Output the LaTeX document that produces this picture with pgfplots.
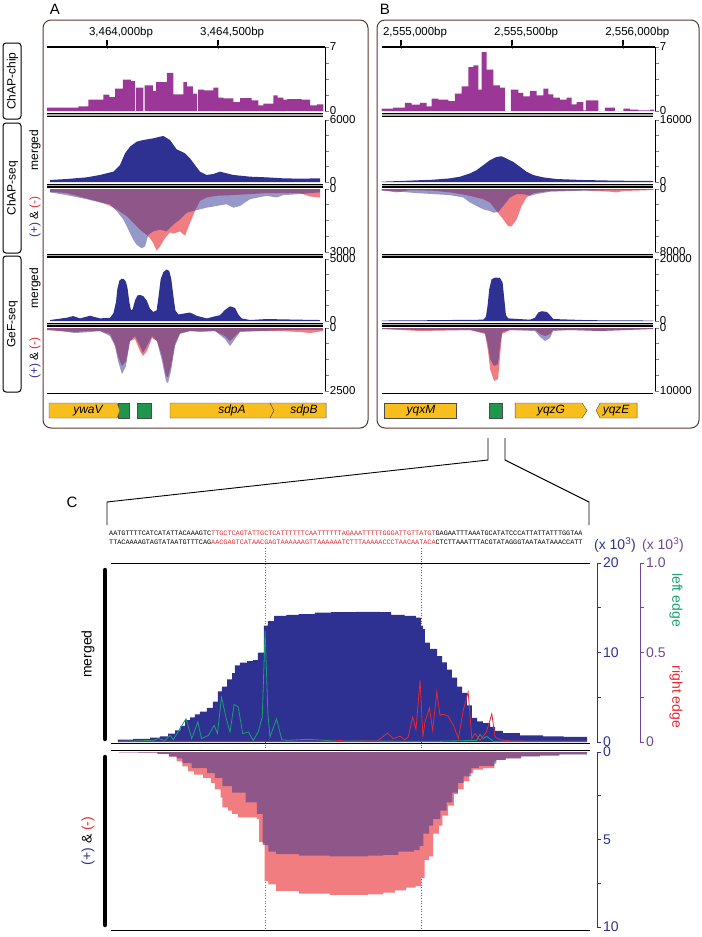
\documentclass[border=0pt]{standalone}
\usepackage{fontspec}
\setmainfont{Liberation Sans}
\newfontfamily\seqfont{Liberation Mono}
\usepackage{pgfplots}
\pgfplotsset{compat=1.18}
\definecolor{navy}{RGB}{46,49,146}
\definecolor{mag}{RGB}{155,55,150}
\definecolor{pinkc}{RGB}{242,125,128}
\definecolor{framec}{RGB}{90,55,45}
\definecolor{gyellow}{RGB}{247,190,30}
\definecolor{ggreen}{RGB}{30,150,75}
\definecolor{egreen}{RGB}{25,160,110}
\definecolor{ered}{RGB}{230,40,50}
\definecolor{purp}{RGB}{110,70,150}
\definecolor{sepgray}{RGB}{175,175,175}
\newcommand\fntA{\fontsize{11.5bp}{12bp}\selectfont}
\newcommand\fntC{\fontsize{14bp}{15bp}\selectfont}
\newcommand\fntS{\fontsize{12bp}{13bp}\selectfont}
\pgfplotsset{
 trkbase/.style={scale only axis, anchor=south west, axis y line=right,
   axis line style={-, line width=0.7bp}, tick align=outside, major tick length=3.5bp,
   ytick style={line width=0.7bp}, yticklabel style={font=\fntA, inner sep=1.2bp},
   scaled y ticks=false, ymin=0, clip=false},
 trk/.style={trkbase, axis x line=none},
 trkA/.style={width=278bp, xmin=730, xmax=1981},
 trkB/.style={width=273bp, xmin=914.5, xmax=2142.5},
 chip/.style={trkbase, axis x line=top, height=64bp, ymax=7,
   x axis line style={-, line width=1.1bp}, 
   ytick={0,1.75,3.5,5.25,7}, yticklabels={0,,,,7},
   xticklabel style={font=\fntA, inner sep=1.5bp, yshift=6bp, xshift=14bp}, scaled x ticks=false},
 gene/.style={scale only axis, anchor=south west, height=15bp, ymin=0, ymax=1, hide axis, clip=false},
 trkC/.style={scale only axis, anchor=south west, axis x line=none, axis y line=right,
   axis line style={-, line width=1bp, navy}, tick align=outside, major tick length=4bp,
   ytick style={line width=1bp, navy}, yticklabel style={font=\fntC, text=navy, inner sep=2bp},
   scaled y ticks=false, ymin=0, clip=false},
}
\begin{document}
\begin{tikzpicture}
\useasboundingbox (0bp,0bp) rectangle (702bp,-937bp);
\begin{scope}[x=1bp,y=-1bp]
% dotted guide lines in C
\draw[egreen, dotted, line width=0.7bp] (265,548) -- (265,930);
\draw[ered, dotted, line width=0.7bp] (421,548) -- (421,930);
% panel letters
\node[font=\fontsize{15bp}{15bp}\selectfont] at (55,9) {A};
\node[font=\fontsize{15bp}{15bp}\selectfont] at (385,9) {B};
\node[font=\fontsize{15bp}{15bp}\selectfont] at (72,502) {C};
% frames
\draw[framec, line width=1bp, rounded corners=8bp] (43,20) rectangle (368,428);
\draw[framec, line width=1bp, rounded corners=8bp] (377,20) rectangle (699,428);
% top axis lines and tick marks
\draw[line width=1.2bp] (47,47) -- (323,47);
\draw[line width=1.2bp] (382,47) -- (653,47);
\foreach \xx in {107,218,401,512,623}{\draw[line width=1.1bp] (\xx,39.5) -- (\xx,47);}
% side boxes
\draw[line width=1bp, rounded corners=3bp] (3,43) rectangle (21,119);
\draw[line width=1bp, rounded corners=3bp] (3,123) rectangle (21,253);
\draw[line width=1bp, rounded corners=3bp] (3,256) rectangle (21,392);
\node[rotate=90, font=\fntS] at (12.5,81) {ChAP-chip};
\node[rotate=90, font=\fntS] at (12.5,188) {ChAP-seq};
\node[rotate=90, font=\fntS] at (12.5,324) {GeF-seq};
\node[rotate=90, font=\fntS] at (35,150) {merged};
\node[rotate=90, font=\fntS] at (35,217) {\textcolor{navy}{(+)} \& \textcolor{ered}{(-)}};
\node[rotate=90, font=\fntS] at (35,288) {merged};
\node[rotate=90, font=\fntS] at (35,358) {\textcolor{navy}{(+)} \& \textcolor{ered}{(-)}};
% separators
\foreach \yy in {115,185.5,255.5,324.5}{
  \draw[line width=4bp] (47,\yy) -- (323,\yy);
  \draw[sepgray, line width=1.6bp] (47,\yy) -- (323,\yy);
  \draw[line width=4bp] (382,\yy) -- (653,\yy);
  \draw[sepgray, line width=1.6bp] (382,\yy) -- (653,\yy);
}
\draw[line width=0.8bp] (47,393.5) -- (323,393.5);
\draw[line width=0.8bp] (382,393.5) -- (653,393.5);
% zoom lines
\draw[line width=0.9bp] (488,438) -- (488,460) -- (107,502) -- (107,525);
\draw[line width=0.9bp] (505,438) -- (505,460) -- (589,502) -- (589,525);
% sequence
\node[anchor=west, inner sep=0pt] at (109,533) {\seqfont\fontsize{6.8bp}{7bp}\selectfont AATGTTTTCATCATATTACAAAGTC\textcolor{ered}{TTGCTCAGTATTGCTCATTTTTTCAATTTTTTAGAAATTTTTGGGATTGTTATGT}GAGAATTTAAATGCATATCCCATTATTATTTGGTAA};
\node[anchor=west, inner sep=0pt] at (109,542) {\seqfont\fontsize{6.8bp}{7bp}\selectfont TTACAAAAGTAGTATAATGTTTCAG\textcolor{ered}{AACGAGTCATAACGAGTAAAAAAGTTAAAAAATCTTTAAAAACCCTAACAATACA}CTCTTAAATTTACGTATAGGGTAATAATAAACCATT};
% panel C decorations
\draw[line width=1bp] (111,563) -- (590,563);
\draw[line width=1bp] (111,743) -- (590,743);
\draw[line width=1bp] (111,750) -- (590,750);
\draw[line width=1bp] (111,930) -- (590,930);
\draw[line width=4.5bp, line cap=round] (105,570) -- (105,739);
\draw[line width=4.5bp, line cap=round] (105,757) -- (105,925);
\node[rotate=90, font=\fntC] at (88,654) {merged};
\node[rotate=90, font=\fntC] at (88,841) {\textcolor{navy}{(+)} \& \textcolor{ered}{(-)}};
\node[font=\fntC, text=navy] at (615,545) {(x 10\textsuperscript{3})};
\node[font=\fntC, text=purp] at (663,545) {(x 10\textsuperscript{3})};
\node[rotate=-90, font=\fntC, text=egreen] at (676,600) {left edge};
\node[rotate=-90, font=\fntC, text=ered] at (676,697) {right edge};
\end{scope}

%================ PANEL A ================
\begin{axis}[chip, trkA, at={(47bp,-111bp)},
  xtick={1000,1500}, xticklabels={{3,464,000bp},{3,464,500bp}}]
\addplot[const plot, fill=mag, draw=none] coordinates {(729,0.36) (871,0.51) (916,1.24) (984,1.79) (1011,1.53) (1036,2.44) (1071,3.43) (1107,3.28) (1126,0) (1131,2.55) (1164,0) (1169,2.81) (1206,2.19) (1221,3.17) (1269,4.16) (1299,1.82) (1344,3.17) (1359,2.70) (1386,1.90) (1404,0) (1410,2.33) (1437,2.26) (1479,2.55) (1501,1.46) (1524,1.39) (1569,0.98) (1599,1.42) (1651,1.17) (1681,0.62) (1704,0.80) (1749,1.71) (1768,1.46) (1794,1.24) (1812,1.31) (1876,1.24) (1914,0.62) (1944,0.73) (1974,0.73)} \closedcycle;
\end{axis}
\begin{axis}[trk, trkA, at={(47bp,-182bp)}, height=62bp, ymax=6000,
  ytick={0,1500,3000,4500,6000}, yticklabels={0,,,,6000}]
\addplot[fill=navy, draw=none] coordinates {(743.5,194) (818.5,290) (908.5,450) (968.5,680) (1028.5,1000) (1058.5,1645) (1081,2774) (1103.5,3420) (1133.5,3900) (1163.5,4065) (1208.5,4226) (1238.5,4387) (1253.5,4450) (1283.5,4065) (1313.5,3160) (1336,2935) (1351,2774) (1373.5,2290) (1396,1645) (1418.5,1000) (1448.5,680) (1478.5,774) (1508.5,1000) (1538.5,840) (1568.5,680) (1643.5,516) (1718.5,450) (1793.5,355) (1868.5,323) (1958.5,355)} \closedcycle;
\end{axis}
\begin{axis}[trk, trkA, at={(47bp,-252bp)}, height=63bp, ymax=3000, y dir=reverse,
  ytick={0,750,1500,2250,3000}, yticklabels={0,,,,3000}]
\addplot[fill=pinkc, draw=none] coordinates {(743.5,129) (818.5,194) (908.5,452) (968.5,613) (1013.5,807) (1043.5,968) (1088.5,1290) (1118.5,1613) (1148.5,1936) (1178.5,2178) (1193.5,2339) (1208.5,2581) (1223.5,2936) (1238.5,2742) (1261,2339) (1283.5,2065) (1298.5,2129) (1328.5,2016) (1351,2226) (1373.5,1613) (1396,1048) (1418.5,565) (1448.5,403) (1493.5,323) (1568.5,290) (1718.5,194) (1868.5,194) (1913.5,355) (1958.5,403)} \closedcycle;
\addplot[fill=navy, fill opacity=0.5, draw=none] coordinates {(743.5,161) (818.5,290) (908.5,484) (968.5,645) (1013.5,726) (1043.5,1048) (1073.5,1452) (1096,1936) (1118.5,2420) (1133.5,2661) (1156,2823) (1171,2742) (1186,2178) (1208.5,2016) (1238.5,1936) (1268.5,2016) (1298.5,1694) (1328.5,1452) (1358.5,1129) (1388.5,1048) (1418.5,968) (1448.5,887) (1493.5,807) (1538.5,726) (1568.5,887) (1598.5,807) (1643.5,484) (1718.5,323) (1763.5,403) (1793.5,290) (1868.5,242) (1913.5,194) (1958.5,161)} \closedcycle;
\end{axis}
\begin{axis}[trk, trkA, at={(47bp,-321bp)}, height=62bp, ymax=5000,
  ytick={0,1250,2500,3750,5000}, yticklabels={0,,,,5000}]
\addplot[fill=navy, draw=none] coordinates {(743.5,79) (818.5,263) (848.5,395) (878.5,210) (923.5,421) (968.5,210) (1013.5,263) (1028.5,605) (1040.5,1526) (1046.5,2578) (1055.5,3235) (1066,3419) (1076.5,3367) (1085.5,3156) (1093,2578) (1100.5,1526) (1108,868) (1115.5,947) (1126,1657) (1136.5,2051) (1148.5,2104) (1163.5,1999) (1178.5,1657) (1193.5,999) (1208.5,736) (1223.5,868) (1232.5,2051) (1241.5,3367) (1253.5,3945) (1268.5,4156) (1280.5,4024) (1289.5,3367) (1298.5,2051) (1307.5,868) (1321,526) (1373.5,684) (1403.5,421) (1448.5,210) (1508.5,473) (1531,894) (1553.5,1184) (1576,1052) (1591,526) (1606,210) (1643.5,79) (1718.5,158) (1793.5,131) (1868.5,105) (1958.5,79)} \closedcycle;
\end{axis}
\begin{axis}[trk, trkA, at={(47bp,-391bp)}, height=63bp, ymax=2500, y dir=reverse,
  ytick={0,625,1250,1875,2500}, yticklabels={0,,,,2500}]
\addplot[fill=pinkc, draw=none] coordinates {(730,79) (788.5,119) (856,159) (923.5,119) (968.5,119) (1013.5,238) (1036,635) (1049.5,1112) (1067.5,1509) (1085.5,1310) (1103.5,516) (1126,437) (1148.5,913) (1162,1112) (1180,913) (1202.5,397) (1225,516) (1247.5,1112) (1265.5,1905) (1274.5,1945) (1288,1509) (1306,635) (1328.5,199) (1373.5,119) (1418.5,119) (1486,119) (1531,318) (1553.5,516) (1576,318) (1598.5,119) (1688.5,119) (1778.5,119) (1868.5,159) (1913.5,199) (1972,119)} \closedcycle;
\addplot[fill=navy, fill opacity=0.5, draw=none] coordinates {(730,79) (788.5,119) (856,199) (923.5,159) (968.5,119) (1013.5,318) (1036,715) (1049.5,1310) (1067.5,1826) (1085.5,1509) (1103.5,516) (1126,318) (1148.5,715) (1162,993) (1180,715) (1202.5,318) (1225,516) (1247.5,1310) (1265.5,2104) (1274.5,2184) (1288,1707) (1306,715) (1328.5,238) (1373.5,119) (1418.5,159) (1486,119) (1531,437) (1553.5,715) (1576,437) (1598.5,159) (1688.5,119) (1823.5,79) (1972,79)} \closedcycle;
\end{axis}
\begin{axis}[gene, at={(47bp,-418bp)}, width=278bp, xmin=730, xmax=1981]
\filldraw[fill=ggreen, draw=black!70, line width=0.4bp] (1050,0) rectangle (1099,1);
\filldraw[fill=ggreen, draw=black!70, line width=0.4bp] (1135,0) rectangle (1198,1);
\filldraw[fill=gyellow, draw=black!70, line width=0.4bp] (739,0) -- (1045,0) -- (1058.5,0.5) -- (1045,1) -- (739,1) -- cycle;
\filldraw[fill=gyellow, draw=black!70, line width=0.4bp] (1283.5,0) -- (1733.5,0) -- (1751.5,0.5) -- (1733.5,1) -- (1283.5,1) -- cycle;
\filldraw[fill=gyellow, draw=black!70, line width=0.4bp] (1733.5,0) -- (1986,0) -- (1986,1) -- (1733.5,1) -- (1751.5,0.5) -- cycle;
\node[font=\fntS\itshape] at (914.5,0.5) {ywaV};
\node[font=\fntS\itshape] at (1562.5,0.5) {sdpA};
\node[font=\fntS\itshape] at (1886.5,0.5) {sdpB};
\end{axis}

%================ PANEL B ================
\begin{axis}[chip, trkB, at={(382bp,-111bp)},
  xtick={1000,1500,2000}, xticklabels={{2,555,000bp},{2,555,500bp},{2,556,000bp}}]
\addplot[const plot, fill=mag, draw=none] coordinates {(912.5,0.26) (965,0.36) (1017.5,0.88) (1047.5,0.69) (1085,0.88) (1115,0.51) (1137.5,1.35) (1167.5,1.24) (1212.5,1.09) (1242.5,1.90) (1272.5,2.70) (1302.5,4.81) (1325,5.00) (1347.5,2.33) (1362.5,6.45) (1385,4.52) (1415,2.81) (1445,2.55) (1467.5,0) (1494.5,2.33) (1527.5,1.97) (1550,1.60) (1580,2.19) (1610,1.71) (1640,2.44) (1662.5,1.82) (1685,1.46) (1715,1.24) (1745,1.46) (1767.5,0.73) (1790,0.98) (1820,0.07) (1832,1.17) (1887.5,0) (1917.5,0.36) (1962.5,0) (2000,0.26) (2030,0.15) (2067.5,0.07) (2120,0.15) (2138,0.15)} \closedcycle;
\end{axis}
\begin{axis}[trk, trkB, at={(382bp,-182bp)}, height=62bp, ymax=16000,
  ytick={0,4000,8000,12000,16000}, yticklabels={0,,,,16000}]
\addplot[fill=navy, draw=none] coordinates {(912.5,85) (995,255) (1070,425) (1145,596) (1220,936) (1265,1362) (1310,2213) (1340,3064) (1370,4340) (1400,5617) (1430,6468) (1452.5,6638) (1475,6043) (1505,5192) (1535,3915) (1565,2638) (1595,1787) (1640,1191) (1700,766) (1820,511) (1970,340) (2135,255)} \closedcycle;
\end{axis}
\begin{axis}[trk, trkB, at={(382bp,-252bp)}, height=63bp, ymax=8000, y dir=reverse,
  ytick={0,2000,4000,6000,8000}, yticklabels={0,,,,8000}]
\addplot[fill=pinkc, draw=none] coordinates {(912.5,129) (980,430) (1040,129) (1145,215) (1220,430) (1295,774) (1370,1290) (1400,1720) (1430,2795) (1460,3870) (1482.5,4730) (1497.5,4730) (1520,3870) (1542.5,2150) (1565,1075) (1595,516) (1670,258) (1820,172) (1940,344) (1970,430) (2000,258) (2135,129)} \closedcycle;
\addplot[fill=navy, fill opacity=0.5, draw=none] coordinates {(912.5,215) (995,344) (1070,516) (1145,645) (1220,774) (1280,1075) (1310,1720) (1340,2150) (1370,2580) (1400,2795) (1415,3010) (1437.5,2924) (1460,2150) (1490,1075) (1520,645) (1550,645) (1580,860) (1610,645) (1670,344) (1820,215) (1970,129) (2135,86)} \closedcycle;
\end{axis}
\begin{axis}[trk, trkB, at={(382bp,-321bp)}, height=62bp, ymax=20000,
  ytick={0,5000,10000,15000,20000}, yticklabels={0,,,,20000}]
\addplot[fill=navy, draw=none] coordinates {(912.5,150) (1070,210) (1220,316) (1370,421) (1382,1369) (1389.5,5054) (1397,10319) (1407.5,13478) (1422.5,14005) (1445,13900) (1457,12425) (1464.5,7160) (1472,1895) (1482.5,842) (1580,421) (1602.5,1053) (1617.5,2738) (1632.5,3159) (1655,2948) (1670,1895) (1685,632) (1820,316) (1910,210) (2135,150)} \closedcycle;
\end{axis}
\begin{axis}[trk, trkB, at={(382bp,-391bp)}, height=63bp, ymax=10000, y dir=reverse,
  ytick={0,2500,5000,7500,10000}, yticklabels={0,,,,10000}]
\addplot[fill=pinkc, draw=none] coordinates {(914.5,159) (1085.5,476) (1310.5,317) (1378,952) (1391.5,3650) (1400.5,6507) (1418.5,8411) (1436.5,8094) (1445.5,4523) (1454.5,952) (1490.5,317) (1603,317) (1625.5,952) (1648,1270) (1670.5,952) (1684,317) (1760.5,317) (1895.5,476) (2134,159)} \closedcycle;
\addplot[fill=navy, fill opacity=0.5, draw=none] coordinates {(914.5,159) (1085.5,317) (1310.5,317) (1378,794) (1391.5,2857) (1400.5,4920) (1418.5,6031) (1436.5,5713) (1445.5,2857) (1454.5,635) (1490.5,317) (1603,476) (1625.5,1428) (1648,2063) (1670.5,1587) (1684,476) (1760.5,317) (1895.5,476) (2134,159)} \closedcycle;
\end{axis}
\begin{axis}[gene, at={(382bp,-418bp)}, width=273bp, xmin=914.5, xmax=2142.5]
\filldraw[fill=gyellow, draw=black!70, line width=0.4bp] (923.5,0) rectangle (1247.5,1);
\filldraw[fill=ggreen, draw=black!70, line width=0.4bp] (1396,0) rectangle (1454.5,1);
\filldraw[fill=gyellow, draw=black!70, line width=0.4bp] (1513,0) -- (1814.5,0) -- (1837,0.5) -- (1814.5,1) -- (1513,1) -- cycle;
\filldraw[fill=gyellow, draw=black!70, line width=0.4bp] (1877.5,0.5) -- (1895.5,0) -- (2062,0) -- (2062,1) -- (1895.5,1) -- cycle;
\node[font=\fntS\itshape] at (1090,0.5) {yqxM};
\node[font=\fntS\itshape] at (1675,0.5) {yqzG};
\node[font=\fntS\itshape] at (1967.5,0.5) {yqzE};
\end{axis}

%================ PANEL C ================
\begin{axis}[trkC, at={(111bp,-742bp)}, width=486bp, height=179bp, xmin=0, xmax=119.2, ymax=20,
  ytick={0,5,10,15,20}, yticklabels={0,,10,,20}]
\addplot[const plot, fill=navy, draw=none] coordinates {(1.7,0.26) (5.4,0.34) (9.6,0.49) (12,0.64) (14,0.94) (15.7,1.3) (17,1.8) (18.2,2.45) (19.4,2.75) (20.6,3.1) (21.8,3.4) (23.5,3.8) (25,4.5) (26.2,5.65) (27.2,6.2) (28.5,7.0) (29.7,7.7) (30.4,8.55) (31.6,8.86) (33.4,9.05) (34.8,9.16) (36,10.0) (37.5,13.0) (38.5,13.5) (40,14.1) (43,14.2) (46,14.3) (50,14.45) (54,14.5) (60,14.55) (66,14.5) (68.7,14.2) (72,14.1) (74.8,13.9) (76,13.0) (76.5,12.6) (77,11.1) (78.2,10.4) (80,9.6) (81.2,8.9) (82.4,8.1) (83.6,7.2) (84.9,6.2) (86.1,5.5) (87.3,4.1) (88.5,2.7) (89.8,2.3) (91.2,2.1) (93,1.7) (94.2,1.25) (96.1,0.98) (100.3,0.75) (106,0.64) (111,0.58) (116.8,0.56)} \closedcycle;
\end{axis}
\begin{axis}[trkC, at={(111bp,-742bp)}, width=529bp, height=179bp, xmin=0, xmax=129.75, ymax=1,
  axis line style={-, line width=1bp, purp}, ytick style={line width=1bp, purp}, yticklabel style={text=purp},
  ytick={0,0.25,0.5,0.75,1}, yticklabels={0,,0.5,,1.0}]
\addplot[egreen, line width=0.8bp] coordinates {(2.2,0.004) (10.4,0.009) (11.6,0.019) (13.2,0.009) (14.5,0.037) (15.3,0.013) (16.9,0.075) (18.4,0.13) (19.8,0.019) (21.3,0.112) (22.2,0.019) (23.9,0.037) (25.3,0.093) (26.1,0.047) (27.1,0.25) (28.4,0.12) (29.2,0.056) (30.2,0.21) (31.2,0.196) (32.3,0.047) (33.7,0.056) (34.9,0.009) (36.1,0.056) (37.1,0.14) (37.8,0.62) (38.5,0.15) (39.0,0.028) (40.6,0.13) (41.9,0.013) (43.1,0.009) (48.0,0.015) (51.3,0.011) (54.5,0.006) (79.1,0.004) (89.7,0.009) (90.5,0.043) (91.3,0.019) (92.1,0.032) (93.8,0.004) (116.7,0.004)};
\addplot[ered, line width=0.8bp] coordinates {(1.8,0.004) (54.5,0.004) (56.2,0.009) (57.8,0.004) (65.2,0.006) (66.4,0.024) (67.8,0.05) (69.2,0.019) (70.9,0.032) (72.1,0.013) (72.9,0.028) (74.0,0.14) (74.8,0.069) (75.8,0.345) (76.5,0.028) (77.0,0.112) (78.1,0.19) (78.9,0.065) (79.9,0.28) (80.7,0.15) (81.5,0.155) (82.7,0.144) (84.0,0.093) (85.2,0.019) (86.4,0.177) (87.6,0.28) (88.5,0.019) (89.3,0.047) (90.5,0.009) (92.1,0.056) (93.4,0.158) (94.2,0.028) (95.4,0.013) (97.9,0.006) (103.6,0.004) (116.7,0.004)};
\end{axis}
\begin{axis}[trkC, at={(111bp,-927bp)}, width=486bp, height=175bp, xmin=0, xmax=119.2, ymax=10, y dir=reverse,
  ytick={0,2.5,5,7.5,10}, yticklabels={0,,5,,10}]
\addplot[const plot, fill=pinkc, draw=none] coordinates {(2.0,0.02) (6.7,0.04) (11.4,0.11) (14.2,0.26) (16.1,0.54) (17.5,0.82) (18.9,1.1) (20.3,1.29) (22.6,1.48) (24.5,1.76) (25.5,2.13) (26.9,2.6) (27.3,3.16) (28.7,3.35) (29.7,3.54) (31.1,3.73) (35.8,3.82) (36.3,5.13) (37.2,5.22) (37.7,7.38) (38.6,7.57) (40.5,7.94) (46.1,8.09) (53.6,8.16) (63.0,8.13) (66.8,8.03) (69.6,7.9) (72.4,7.75) (74.7,7.66) (76.1,7.19) (76.9,6.16) (78.0,5.97) (79.0,4.66) (80.4,4.2) (81.3,3.63) (82.7,3.07) (84.1,2.41) (85.1,2.13) (86.5,1.67) (87.9,1.2) (88.8,1.01) (91.2,0.92) (94.0,0.54) (94.5,0.45) (96.8,0.36) (100.6,0.22) (110.0,0.11) (116.5,0.08) (116.8,0.08)} \closedcycle;
\addplot[const plot, fill=navy, fill opacity=0.5, draw=none] coordinates {(2.0,0.02) (6.7,0.04) (11.4,0.11) (14.2,0.26) (16.1,0.36) (17.5,0.64) (19.8,0.92) (23.6,1.2) (25.5,1.48) (27.3,1.95) (29.7,2.32) (33.0,2.88) (35.8,3.54) (37.2,5.32) (38.6,5.69) (40.5,5.84) (46.1,5.92) (53.6,5.97) (63.0,5.92) (66.8,5.88) (70.5,5.69) (74.3,5.6) (75.7,5.36) (76.6,4.66) (78.0,4.2) (79.0,3.82) (80.8,3.35) (82.3,2.88) (83.7,2.32) (85.1,1.76) (86.5,1.39) (88.4,0.92) (90.2,0.79) (94.0,0.67) (94.5,0.45) (96.8,0.36) (100.6,0.26) (105.2,0.17) (110.0,0.15) (116.5,0.17) (116.8,0.17)} \closedcycle;
\end{axis}
\end{tikzpicture}
\end{document}
